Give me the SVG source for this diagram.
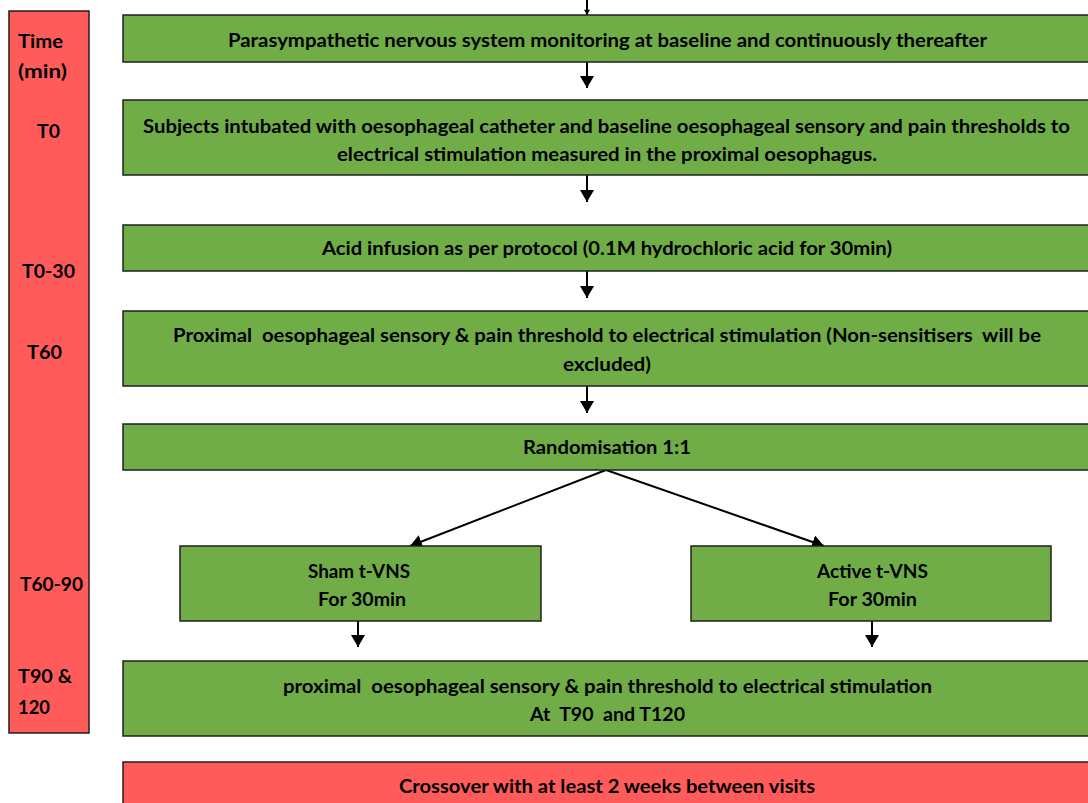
<svg xmlns="http://www.w3.org/2000/svg" width="1088" height="803" viewBox="0 0 1088 803">
<defs>
<style>
.g{fill:#70AD47;stroke:#1f1f1f;stroke-width:1.5}
.r{fill:#FF5B5B;stroke:#1f1f1f;stroke-width:1.5}
text{font-family:Lato,"Liberation Sans",sans-serif;font-weight:bold;font-size:19px;fill:#000}
.ln{stroke:#000;stroke-width:2;fill:none}
</style>
<marker id="ah" viewBox="0 0 12 14" refX="12" refY="7" markerWidth="12" markerHeight="14" markerUnits="userSpaceOnUse" orient="auto">
<path d="M0,0 L12,7 L0,14 Z" fill="#000"/>
</marker>
<marker id="ahs" viewBox="0 0 12 14" refX="12" refY="7" markerWidth="6" markerHeight="6" markerUnits="userSpaceOnUse" orient="auto">
<path d="M0,0 L12,7 L0,14 Z" fill="#000"/>
</marker>
</defs>
<rect width="1088" height="803" fill="#fff"/>

<g id="timebar">
<rect class="r" x="9" y="11" width="80" height="722"/>
<text x="18" y="48" textLength="45" lengthAdjust="spacingAndGlyphs">Time</text>
<text x="18" y="78" textLength="49" lengthAdjust="spacingAndGlyphs">(min)</text>
<text x="37" y="138" textLength="23" lengthAdjust="spacingAndGlyphs">T0</text>
<text x="22" y="278" textLength="53" lengthAdjust="spacingAndGlyphs">T0-30</text>
<text x="27" y="359" textLength="35" lengthAdjust="spacingAndGlyphs">T60</text>
<text x="20" y="591" textLength="63" lengthAdjust="spacingAndGlyphs">T60-90</text>
<text x="18" y="683" textLength="54" lengthAdjust="spacingAndGlyphs">T90 &amp;</text>
<text x="18" y="714" textLength="32" lengthAdjust="spacingAndGlyphs">120</text>
</g>

<g id="connectors">
<line class="ln" x1="587" y1="0" x2="587" y2="15" marker-end="url(#ahs)"/>
<line class="ln" x1="587" y1="62" x2="587" y2="88" marker-end="url(#ah)"/>
<line class="ln" x1="587" y1="175" x2="587" y2="202" marker-end="url(#ah)"/>
<line class="ln" x1="587" y1="271" x2="587" y2="298" marker-end="url(#ah)"/>
<line class="ln" x1="587" y1="386" x2="587" y2="413" marker-end="url(#ah)"/>
<line class="ln" x1="606" y1="470" x2="410" y2="546" marker-end="url(#ah)"/>
<line class="ln" x1="606" y1="470" x2="824" y2="546" marker-end="url(#ah)"/>
<line class="ln" x1="358" y1="621" x2="358" y2="647" marker-end="url(#ah)"/>
<line class="ln" x1="872" y1="621" x2="872" y2="647" marker-end="url(#ah)"/>
</g>

<g id="monitoring">
<rect class="g" x="123" y="15" width="975" height="47"/>
<text x="228" y="47" textLength="759" lengthAdjust="spacingAndGlyphs">Parasympathetic nervous system monitoring at baseline and continuously thereafter</text>
</g>

<g id="intubation">
<rect class="g" x="123" y="100" width="975" height="75"/>
<text x="143" y="133" textLength="927" lengthAdjust="spacingAndGlyphs">Subjects intubated with oesophageal catheter and baseline oesophageal sensory and pain thresholds to</text>
<text x="337" y="161" textLength="540" lengthAdjust="spacingAndGlyphs">electrical stimulation measured in the proximal oesophagus.</text>
</g>

<g id="acid">
<rect class="g" x="123" y="225" width="975" height="46"/>
<text x="322" y="255" textLength="570" lengthAdjust="spacingAndGlyphs">Acid infusion as per protocol (0.1M hydrochloric acid for 30min)</text>
</g>

<g id="threshold60">
<rect class="g" x="123" y="311" width="975" height="75"/>
<text x="173" y="342" textLength="868" lengthAdjust="spacingAndGlyphs" xml:space="preserve">Proximal  oesophageal sensory &amp; pain threshold to electrical stimulation (Non-sensitisers  will be</text>
<text x="563" y="371" textLength="88" lengthAdjust="spacingAndGlyphs">excluded)</text>
</g>

<g id="randomisation">
<rect class="g" x="123" y="424" width="975" height="46"/>
<text x="523" y="454" textLength="168" lengthAdjust="spacingAndGlyphs">Randomisation 1:1</text>
</g>

<g id="sham">
<rect class="g" x="180" y="546" width="361" height="75"/>
<text x="308" y="578" textLength="102" lengthAdjust="spacingAndGlyphs">Sham t-VNS</text>
<text x="318" y="606" textLength="88" lengthAdjust="spacingAndGlyphs">For 30min</text>
</g>

<g id="active">
<rect class="g" x="691" y="546" width="360" height="75"/>
<text x="817" y="578" textLength="111" lengthAdjust="spacingAndGlyphs">Active t-VNS</text>
<text x="828" y="606" textLength="89" lengthAdjust="spacingAndGlyphs">For 30min</text>
</g>

<g id="threshold90">
<rect class="g" x="123" y="661" width="975" height="75"/>
<text x="283" y="693" textLength="649" lengthAdjust="spacingAndGlyphs" xml:space="preserve">proximal  oesophageal sensory &amp; pain threshold to electrical stimulation</text>
<text x="530" y="721" textLength="155" lengthAdjust="spacingAndGlyphs" xml:space="preserve">At  T90  and T120</text>
</g>

<g id="crossover">
<rect class="r" x="123" y="762" width="975" height="60"/>
<text x="399" y="793" textLength="416" lengthAdjust="spacingAndGlyphs">Crossover with at least 2 weeks between visits</text>
</g>
</svg>
